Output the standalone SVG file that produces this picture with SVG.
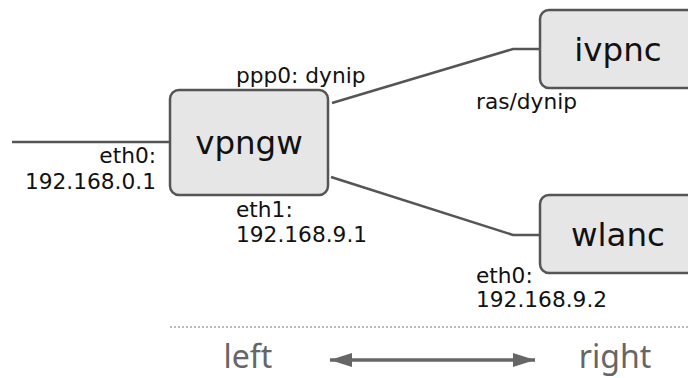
<svg xmlns="http://www.w3.org/2000/svg" width="688" height="378" viewBox="0 0 688 378">
<defs>
<style>
.box{fill:#e6e6e6;stroke:#555;stroke-width:2.5}
.name{font-family:"DejaVu Sans",sans-serif;font-size:32.5px;fill:#111;text-anchor:middle}
.lbl{font-family:"DejaVu Sans",sans-serif;font-size:21.7px;fill:#111}
.wire{fill:none;stroke:#555;stroke-width:2.5}
.side{font-family:"Noto Sans",sans-serif;font-size:32px;fill:#666;text-anchor:middle}
</style>
<marker id="ah" viewBox="0 0 10 10" refX="10" refY="5" markerWidth="22" markerHeight="14" markerUnits="userSpaceOnUse" orient="auto-start-reverse" preserveAspectRatio="none">
<path d="M0,0 L10,5 L0,10 Z" fill="#666"/>
</marker>
</defs>
<rect width="688" height="378" fill="#fff"/>
<g id="connectors">
<line class="wire" x1="12" y1="142" x2="170" y2="142"/>
<polyline class="wire" points="332,103 513,49 540,49"/>
<polyline class="wire" points="331,177 513,235 540,235"/>
</g>
<g id="vpngw">
<rect class="box" x="170" y="90" width="158" height="105" rx="9"/>
<text class="name" x="249" y="154">vpngw</text>
<text class="lbl" x="156" y="163" text-anchor="end">eth0:</text>
<text class="lbl" x="156" y="189" text-anchor="end">192.168.0.1</text>
<text class="lbl" x="236" y="83">ppp0: dynip</text>
<text class="lbl" x="236" y="217">eth1:</text>
<text class="lbl" x="236" y="242">192.168.9.1</text>
</g>
<g id="ivpnc">
<rect class="box" x="540" y="10" width="158" height="78" rx="9"/>
<text class="name" x="618" y="61">ivpnc</text>
<text class="lbl" x="476" y="109">ras/dynip</text>
</g>
<g id="wlanc">
<rect class="box" x="540" y="195" width="158" height="78" rx="9"/>
<text class="name" x="618" y="246">wlanc</text>
<text class="lbl" x="476" y="283">eth0:</text>
<text class="lbl" x="476" y="307">192.168.9.2</text>
</g>
<g id="legend">
<line x1="170" y1="327" x2="688" y2="327" stroke="#777" stroke-width="1" stroke-dasharray="2,2"/>
<line x1="330" y1="360" x2="535" y2="360" stroke="#666" stroke-width="3.5" marker-start="url(#ah)" marker-end="url(#ah)"/>
<text class="side" x="248" y="368">left</text>
<text class="side" x="615" y="368">right</text>
</g>
</svg>
